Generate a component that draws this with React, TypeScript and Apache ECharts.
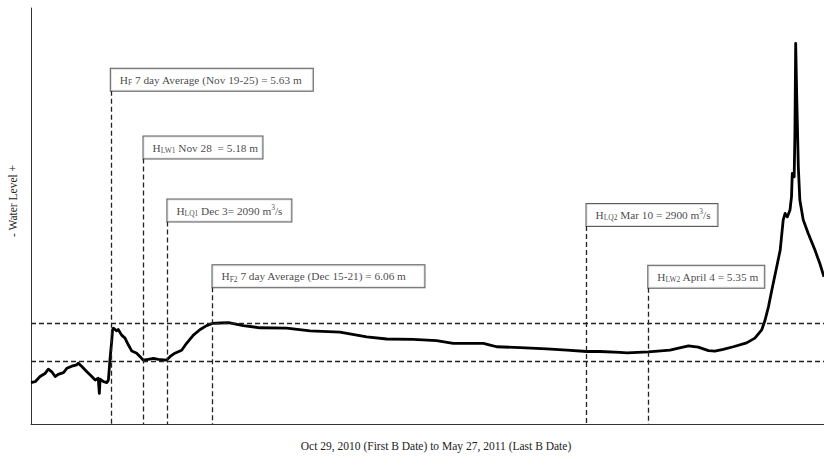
import React, { useEffect, useRef } from "react";
import * as echarts from "echarts";

// Days since Oct 29, 2010 (day 0) to May 27, 2011 (day 210)
const days = [
  0, 1.1, 2.4, 3.7, 4.6, 5.5, 6.4, 7.2, 8.6, 9.5, 10.8, 12.1, 12.5, 13.4, 14.8, 16.1, 17.0, 17.8, 18.1, 18.3,
  19.2, 20.1, 20.5, 20.9, 21.4, 21.6, 21.8, 22.7, 23.1, 24.0, 24.9, 25.8, 26.7, 28.0, 28.9, 29.7, 31.1, 32.4, 33.7, 35.9,
  36.8, 38.1, 39.9, 41.2, 43.0, 44.8, 46.5, 48.0, 50.1, 52.3, 56.2, 60.6, 67.7, 73.9, 81.8, 88.9, 94.2, 101.2, 107.4, 111.8,
  119.8, 121.6, 123.3, 129.5, 136.6, 141.9, 147.2, 150.7, 156.0, 157.8, 163.5, 169.2, 174.1, 176.7, 179.4, 181.1, 183.3, 186.0, 189.5, 191.7,
  193.5, 194.4, 195.3, 196.2, 197.3, 198.4, 199.2, 199.7, 200.3, 201.0, 201.4, 201.6, 202.1, 202.3, 202.5, 202.8, 203.2, 203.6, 204.5, 205.8,
  207.6, 208.9, 210.0,
];
const waterLevel = [
  4.68, 4.70, 4.82, 4.89, 4.99, 4.93, 4.82, 4.87, 4.91, 5.01, 5.06, 5.09, 5.13, 5.06, 4.93, 4.82, 4.74, 4.78, 4.43, 4.76,
  4.70, 4.68, 4.74, 5.20, 5.67, 5.90, 5.94, 5.88, 5.91, 5.78, 5.71, 5.55, 5.41, 5.36, 5.28, 5.20, 5.22, 5.24, 5.22, 5.20,
  5.28, 5.36, 5.43, 5.59, 5.78, 5.91, 6.00, 6.05, 6.06, 6.07, 6.00, 5.95, 5.94, 5.88, 5.85, 5.74, 5.69, 5.68, 5.65, 5.59,
  5.59, 5.55, 5.51, 5.49, 5.46, 5.43, 5.40, 5.40, 5.38, 5.37, 5.39, 5.43, 5.53, 5.50, 5.42, 5.41, 5.45, 5.51, 5.60, 5.71,
  5.90, 6.13, 6.44, 6.83, 7.29, 7.75, 8.45, 8.60, 8.52, 8.68, 8.99, 9.53, 9.45, 10.46, 12.54, 11.23, 9.68, 8.91, 8.45, 8.14,
  7.75, 7.44, 7.13,
];

// Horizontal reference levels (m)
const refLevels = [6.06, 5.18];

// Annotations: vertical line position (day), top of line (level), box text, box width
const annoDays = [21.13, 29.79, 36.12, 48.06, 147.1, 163.47];
const annoTops = [11.44, 9.87, 8.41, 6.89, 8.31, 6.88];
const annoTexts = [
  "{m|H}{s|F}{m| 7 day Average (Nov 19-25) = 5.63 m}",
  "{m|H}{s|LW1}{m| Nov 28  = 5.18 m}",
  "{m|H}{s|LQ1}{m| Dec 3= 2090 m}{p|3}{m|/s}",
  "{m|H}{s|F2}{m| 7 day Average (Dec 15-21) = 6.06 m}",
  "{m|H}{s|LQ2}{m| Mar 10 = 2900 m}{p|3}{m|/s}",
  "{m|H}{s|LW2}{m| April 4 = 5.35 m}",
];
const annoBoxWidths = [202, 119, 124, 212, 131, 116];

const Y_MIN = 3.72;
const Y_MAX = 13.36;
const X_MIN = 0;
const X_MAX = 210;

const serif = "'Liberation Serif', 'DejaVu Serif', serif";

export default function App() {
  const ref = useRef<HTMLDivElement>(null);
  useEffect(() => {
    if (!ref.current) return;
    const chart = echarts.init(ref.current, undefined, { renderer: "svg" });
    const lineData = days.map((d, i) => [d, waterLevel[i]]);
    const dashStyle = { color: "#222", width: 1.3, type: [5, 3] as any };
    const option: any = {
      animation: false,
      backgroundColor: "#fff",
      grid: { left: 31, right: 0, top: 8, bottom: 39, containLabel: false },
      xAxis: {
        type: "value",
        min: X_MIN,
        max: X_MAX,
        axisLine: { show: true, onZero: false, lineStyle: { color: "#333", width: 1 } },
        axisTick: { show: false },
        axisLabel: { show: false },
        splitLine: { show: false },
      },
      yAxis: {
        type: "value",
        min: Y_MIN,
        max: Y_MAX,
        axisLine: { show: true, onZero: false, lineStyle: { color: "#333", width: 1 } },
        axisTick: { show: false },
        axisLabel: { show: false },
        splitLine: { show: false },
      },
      graphic: [
        {
          type: "text",
          x: 13,
          y: 201,
          rotation: Math.PI / 2,
          style: {
            text: "- Water Level +",
            font: `11.5px ${serif}`,
            fill: "#222",
            align: "center",
            verticalAlign: "middle",
          },
        },
        {
          type: "text",
          x: 436,
          y: 446,
          style: {
            text: "Oct 29, 2010 (First B Date) to May 27, 2011 (Last B Date)",
            font: `11.5px ${serif}`,
            fill: "#222",
            align: "center",
            verticalAlign: "middle",
          },
        },
      ],
      series: [
        {
          type: "line",
          data: lineData,
          symbol: "none",
          smooth: false,
          lineStyle: { color: "#000", width: 2.8, join: "round" },
          z: 3,
          markLine: {
            silent: true,
            symbol: "none",
            label: { show: false },
            lineStyle: dashStyle,
            data: [
              ...refLevels.map((v) => ({ yAxis: v })),
              ...annoDays.map((d, i) => [
                { coord: [d, annoTops[i]] },
                { coord: [d, Y_MIN] },
              ]),
            ],
          },
        },
        {
          type: "scatter",
          symbolSize: 0.01,
          silent: true,
          z: 5,
          data: annoDays.map((d, i) => ({
            value: [d, annoTops[i]],
            label: { width: annoBoxWidths[i] - 18 },
          })),
          label: {
            show: true,
            position: [0, 0],
            align: "left",
            verticalAlign: "bottom",
            formatter: (p: any) => annoTexts[p.dataIndex],
            backgroundColor: "#fff",
            borderColor: "#333",
            borderWidth: 1,
            padding: [4, 9, 4, 9],
            fontFamily: serif,
            fontSize: 11,
            lineHeight: 14,
            color: "#111",
            rich: {
              m: { fontFamily: serif, fontSize: 11.3, lineHeight: 14, color: "#111" },
              s: { fontFamily: serif, fontSize: 7.5, lineHeight: 8, verticalAlign: "bottom", color: "#111" },
              p: { fontFamily: serif, fontSize: 7.5, lineHeight: 8, verticalAlign: "top", color: "#111" },
            },
          },
        },
      ],
    };
    chart.setOption(option);
    return () => chart.dispose();
  }, []);
  return <div ref={ref} style={{ width: 824, height: 463, position: "absolute", left: 0, top: 0 }} />;
}
